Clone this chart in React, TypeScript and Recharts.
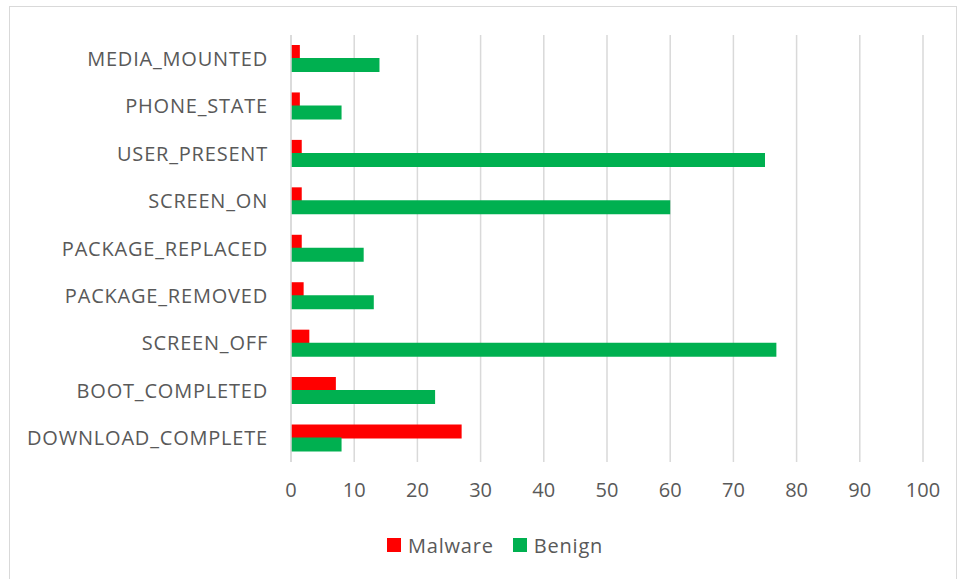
import React from 'react'
import {
    BarChart,
    Bar,
    XAxis,
    YAxis,
    CartesianGrid
} from "recharts"

const categories = [
    'MEDIA_MOUNTED',
    'PHONE_STATE',
    'USER_PRESENT',
    'SCREEN_ON',
    'PACKAGE_REPLACED',
    'PACKAGE_REMOVED',
    'SCREEN_OFF',
    'BOOT_COMPLETED',
    'DOWNLOAD_COMPLETE'
]
const malware = [1.4, 1.4, 1.7, 1.7, 1.7, 2.0, 2.9, 7.1, 27.0]
const benign = [14.0, 8.0, 75.0, 60.0, 11.5, 13.1, 76.8, 22.8, 8.0]
const xTicks = [0, 10, 20, 30, 40, 50, 60, 70, 80, 90, 100]

const data = categories.map((c, i) => ({
    name: c,
    Malware: malware[i],
    Benign: benign[i]
}))

const FONT = '"Open Sans", sans-serif'
const TEXT = '#595959'

function LegendBox() {
    const items = [
        { label: 'Malware', color: '#ff0000' },
        { label: 'Benign', color: '#00b050' }
    ]
    return (
        <div style={{
            position: 'absolute',
            left: 387,
            top: 531,
            height: 28,
            display: 'flex',
            alignItems: 'center',
            fontFamily: FONT,
            fontSize: 20,
            letterSpacing: 0.8,
            color: TEXT
        }}>
            {items.map(it => (
                <div key={it.label} style={{ display: 'flex', alignItems: 'center', marginRight: 19 }}>
                    <div style={{ width: 14, height: 14, background: it.color, marginRight: 7 }} />
                    <span>{it.label}</span>
                </div>
            ))}
        </div>
    )
}

export default function App() {
  return (
    <div style={{ position: 'absolute', left: 0, top: 0, width: 959, height: 579, overflow: 'hidden', background: '#fff' }}>
        {/* chart frame, bottom edge falls outside the picture */}
        <div style={{
            position: 'absolute',
            left: 9,
            top: 6,
            width: 946,
            height: 590,
            border: '1px solid #d9d9d9'
        }} />
        <BarChart
        width={959}
        height={579}
        data={data}
        layout="vertical"
        margin={{ top: 35, right: 36, bottom: 77, left: 0 }}
        barSize={14}
        barGap={-1}
        style={{ position: 'absolute', left: 0, top: 0 }}
        >
            <CartesianGrid
            horizontal={false}
            stroke="#d9d9d9"
            strokeWidth={1.5}
            />

            <XAxis
            type="number"
            domain={[0, 100]}
            ticks={xTicks}
            height={40}
            axisLine={false}
            tickLine={false}
            tickSize={0}
            tickMargin={21}
            tick={{ fill: TEXT, fontSize: 20, fontFamily: FONT }}
            />

            <YAxis
            type="category"
            dataKey="name"
            width={291}
            axisLine={{ stroke: '#d9d9d9', strokeWidth: 1.5 }}
            tickLine={false}
            tickSize={0}
            tickMargin={23}
            tick={{ fill: TEXT, fontSize: 20, fontFamily: FONT, letterSpacing: 0.8 }}
            />

            <Bar dataKey="Malware" fill="#ff0000" isAnimationActive={false} />
            <Bar dataKey="Benign" fill="#00b050" isAnimationActive={false} />
        </BarChart>
        <LegendBox />
    </div>
  )
}
